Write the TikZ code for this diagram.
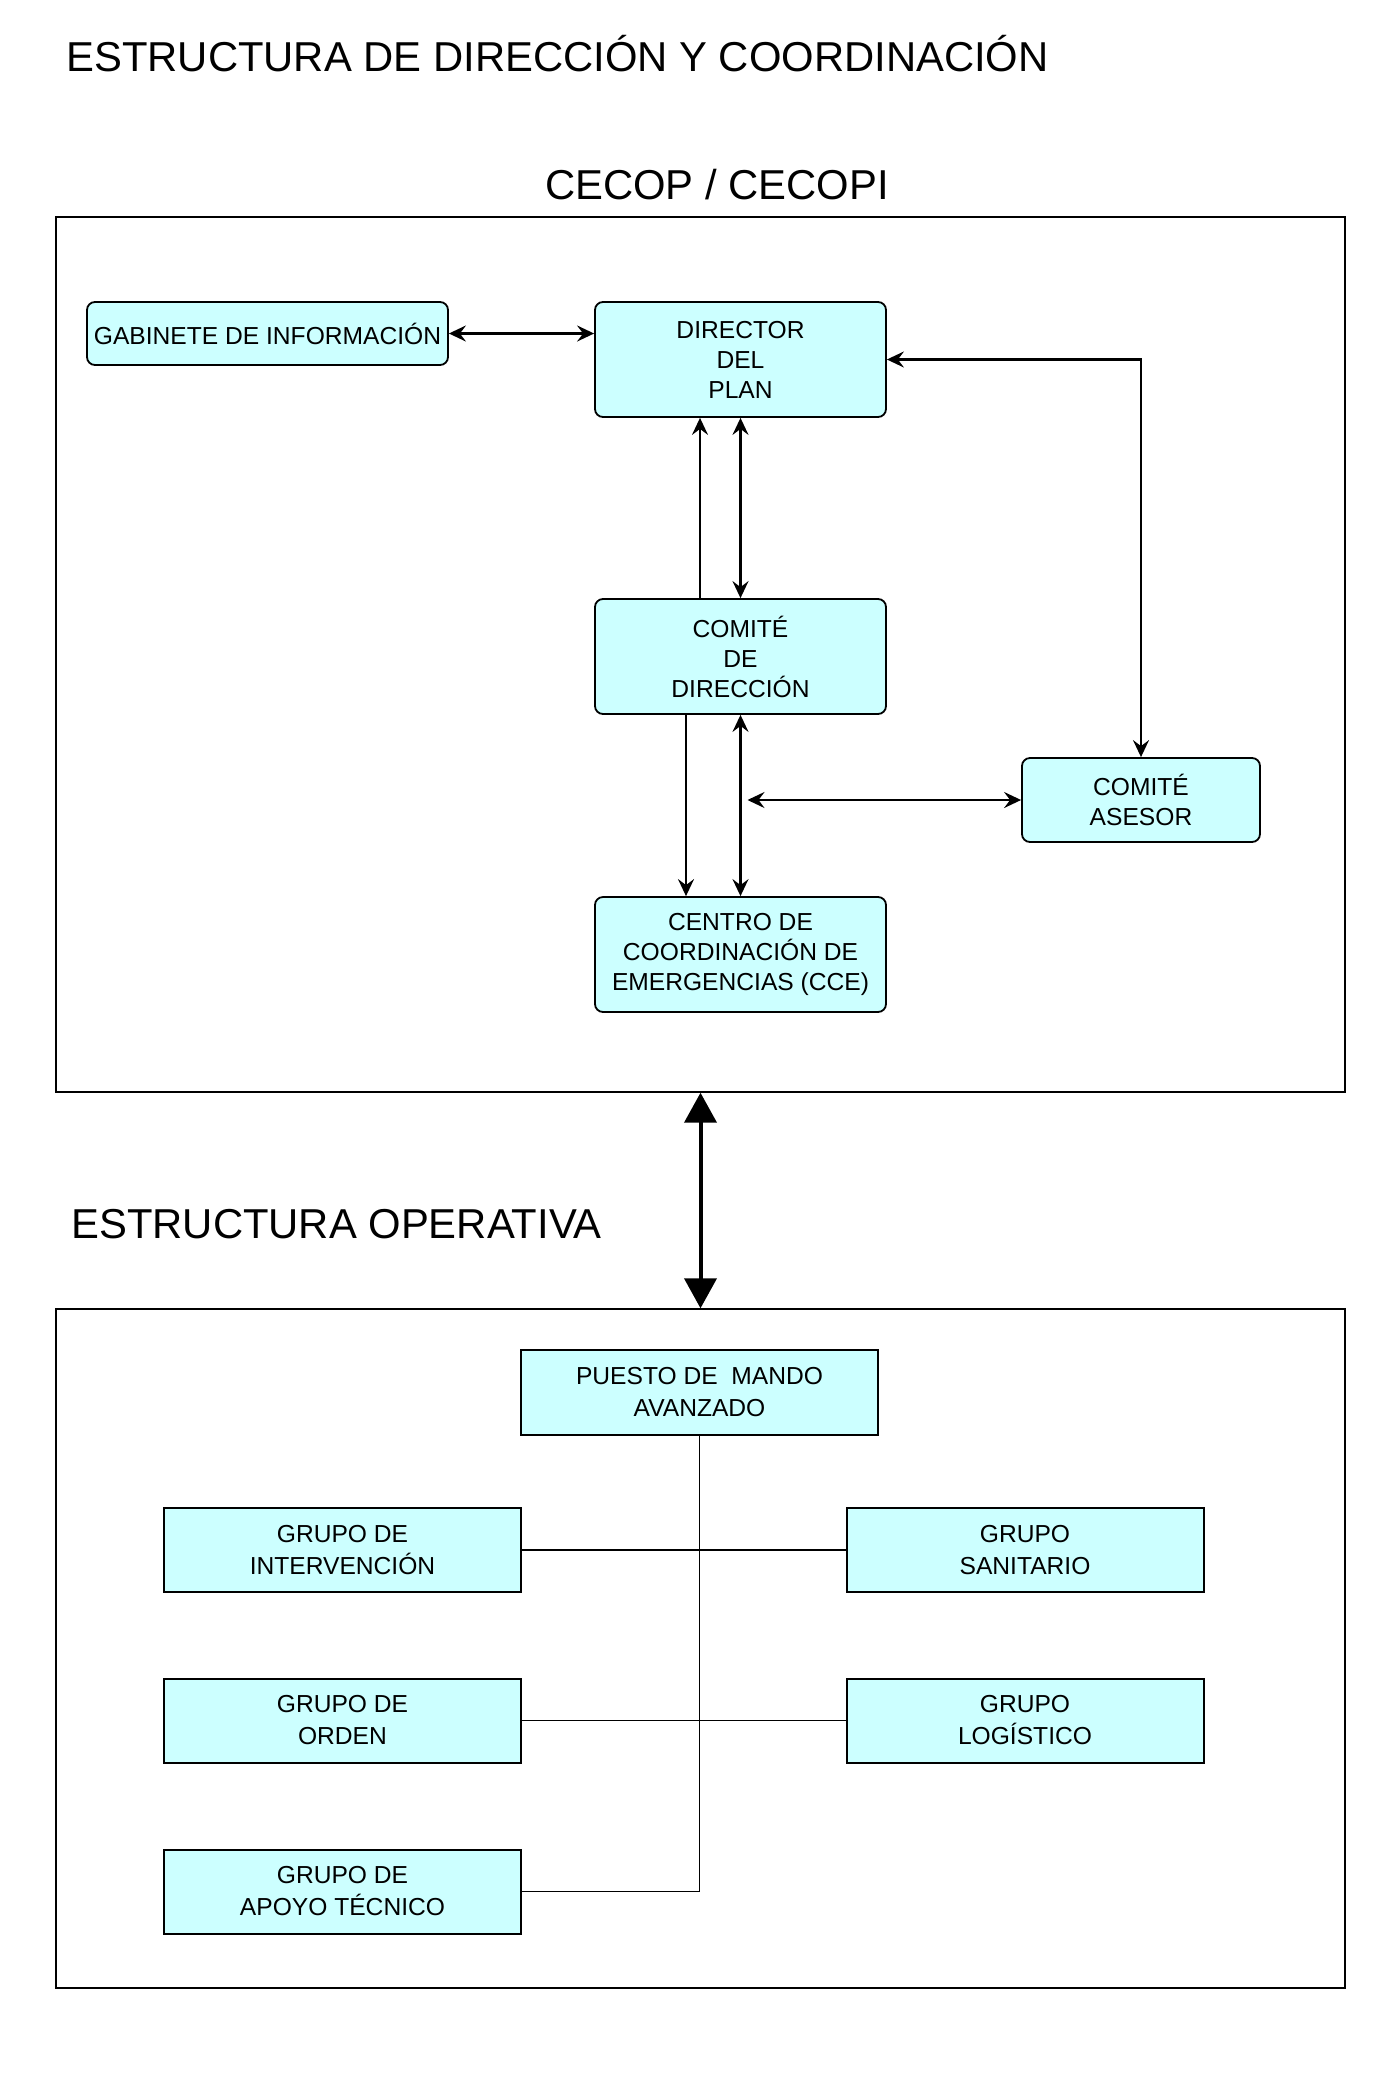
\documentclass[tikz,border=0pt]{standalone}
\usepackage{fontspec}
\setmainfont{Liberation Sans}
\usetikzlibrary{arrows.meta,calc}
\definecolor{boxcyan}{RGB}{204,255,255}

\begin{document}
\begin{tikzpicture}
  [
    x=0.5pt, y=-0.5pt,
    >={Stealth[length=8.5pt, width=8pt, inset=3pt]},
    frame/.style =
      {draw, line width=0.7pt, minimum width=644.5pt, inner sep=0pt},
    rbox/.style =
      {draw, rounded corners=4pt, fill=boxcyan, line width=0.9pt, align=center,
       inner sep=0pt, minimum width=145.5pt, minimum height=57.5pt,
       font=\fontsize{12.3}{15}\selectfont},
    sbox/.style =
      {draw, fill=boxcyan, line width=1pt, align=center, inner sep=0pt,
       minimum width=178.5pt, minimum height=42pt,
       font=\fontsize{12.3}{16}\selectfont},
    heading/.style = {font=\fontsize{20.9}{24}\selectfont, inner sep=0pt},
    link/.style = {line width=1.1pt},
    tree/.style = {line width=0.8pt},
    bigarrow/.style =
      {line width=2pt,
       {Triangle[length=15pt, width=16pt]}-{Triangle[length=15pt, width=16pt]}}
  ]
  \useasboundingbox (0,0) rectangle (1398,2074);

  % titles
  \node [heading, anchor=base west] at (66,71)   (title) {ESTRUCTURA DE DIRECCIÓN Y COORDINACIÓN};
  \node [heading, anchor=base]      at (717,199) (head)  {CECOP / CECOPI};
  \node [heading, anchor=base west] at (71,1238) (oplab) {ESTRUCTURA OPERATIVA};

  % frames
  \node [frame, minimum height=437.5pt] at (700.5,654.5)  (cecop) {};
  \node [frame, minimum height=339.5pt] at (700.5,1648.5) (oper)  {};

  % direction and coordination
  \node [rbox, minimum width=180.5pt, minimum height=31.5pt]
                 at (267.5,333.5) (gab)  {GABINETE DE INFORMACIÓN};
  \node [rbox] at (740.5,359.5) (dir)  {DIRECTOR\\DEL\\PLAN};
  \node [rbox] at (740.5,656.5) (cdir) {COMITÉ\\DE\\DIRECCIÓN};
  \node [rbox, minimum width=119pt, minimum height=42pt]
                 at (1141,800)    (ases) {COMITÉ\\ASESOR};
  \node [rbox] at (740.5,954.5) (cce)  {CENTRO DE\\COORDINACIÓN DE\\EMERGENCIAS (CCE)};

  \draw[<->, link] (gab.east) -- (gab.east -| dir.west);
  \draw[ ->, link] ([xshift=-20.25pt]cdir.north) -- ([xshift=-20.25pt]dir.south);
  \draw[<->, link] (cdir.north) -- (dir.south);
  \draw[<->, link] (dir.east) -| (ases.north);
  \draw[ ->, link] ([xshift=-27.25pt]cdir.south) -- ([xshift=-27.25pt]cce.north);
  \draw[<->, link] (cdir.south) -- (cce.north);
  \coordinate (tap) at ([xshift=3.5pt]ases.west -| cdir.south);
  \draw[<->, link] (ases.west) -- (tap);

  \draw[bigarrow] (cecop.south) -- (oper.north);

  % operative structure
  \node [sbox, minimum height=42.5pt] at (699.5,1392.5) (pma)  {PUESTO DE~ MANDO\\AVANZADO};
  \node [sbox] at (342.5,1550)   (gint) {GRUPO DE\\INTERVENCIÓN};
  \node [sbox] at (1025,1550)    (gsan) {GRUPO\\SANITARIO};
  \node [sbox] at (342.5,1720.5) (gord) {GRUPO DE\\ORDEN};
  \node [sbox] at (1025,1720.5)  (glog) {GRUPO\\LOGÍSTICO};
  \node [sbox] at (342.5,1891.5) (gapo) {GRUPO DE\\APOYO TÉCNICO};

  \draw[tree] (pma.south) |- (gapo.east);
  \draw[tree] (gint.east) -- (gsan.west);
  \draw[tree] (gord.east) -- (glog.west);
\end{tikzpicture}
\end{document}
